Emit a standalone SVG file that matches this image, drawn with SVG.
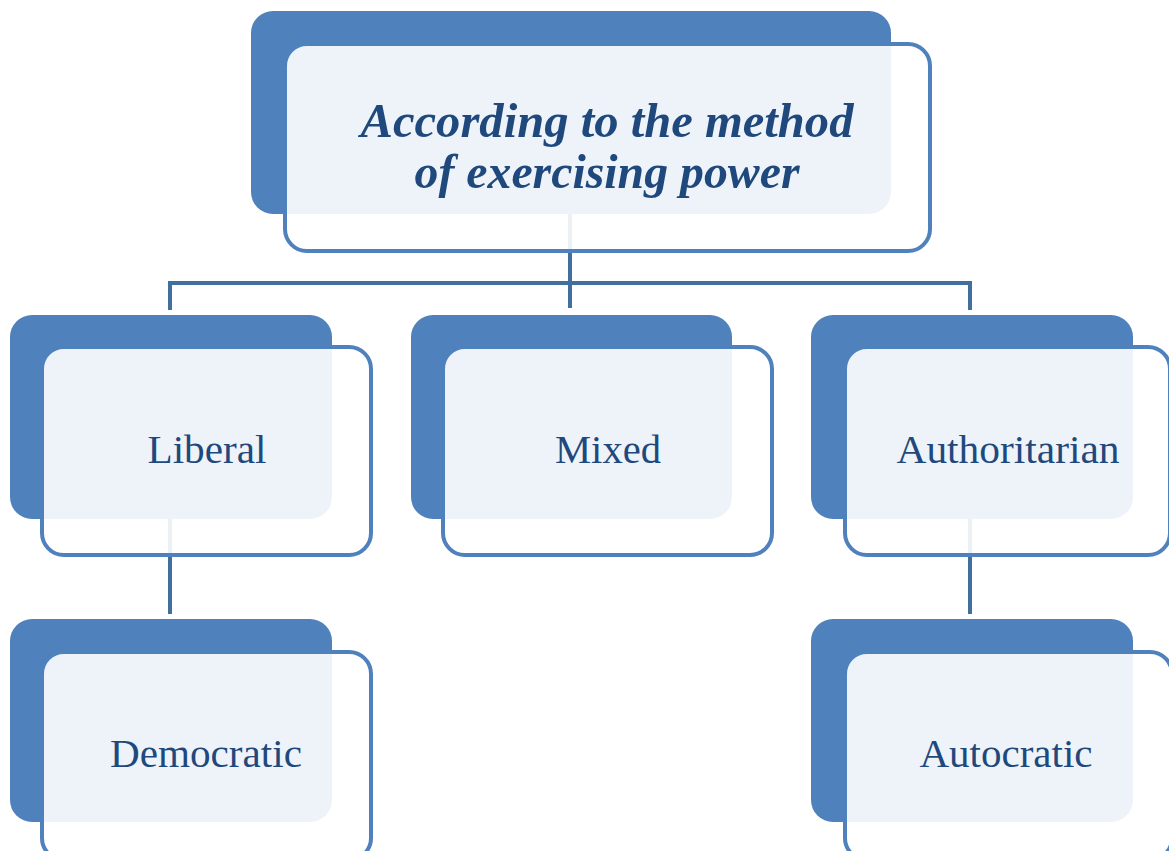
<svg xmlns="http://www.w3.org/2000/svg" width="1169" height="851" viewBox="0 0 1169 851">
<style>
.back{fill:#4F81BD;}
.front{fill:#FFFFFF;fill-opacity:0.9;stroke:#4F81BD;stroke-width:4;}
.conn{fill:none;stroke:#41709F;stroke-width:4;}
text{font-family:'Liberation Serif','DejaVu Serif',serif;fill:#1F497D;text-anchor:middle;}
.lbl{font-size:41px;}
.title{font-size:49px;font-weight:bold;font-style:italic;}
</style>
<rect width="1169" height="851" fill="#FFFFFF"/>
<g id="connectors">
<path class="conn" d="M570,214 V308"/>
<path class="conn" d="M170,310 V283 H970 V310"/>
<path class="conn" d="M170,518 V614"/>
<path class="conn" d="M970,518 V614"/>
</g>
<g id="node-root">
<rect class="back" x="251" y="11" width="640" height="203" rx="22"/>
<rect class="front" x="285" y="44" width="645" height="207" rx="22"/>
<text class="title" x="607" y="137" textLength="493" lengthAdjust="spacingAndGlyphs">According to the method</text>
<text class="title" x="607" y="188" textLength="385" lengthAdjust="spacingAndGlyphs">of exercising power</text>
</g>
<g id="node-liberal">
<rect class="back" x="10" y="315" width="322" height="204" rx="22"/>
<rect class="front" x="42" y="347" width="329" height="208" rx="22"/>
<text class="lbl" x="207" y="463" textLength="119" lengthAdjust="spacingAndGlyphs">Liberal</text>
</g>
<g id="node-mixed">
<rect class="back" x="411" y="315" width="321" height="204" rx="22"/>
<rect class="front" x="443" y="347" width="329" height="208" rx="22"/>
<text class="lbl" x="608" y="463" textLength="106" lengthAdjust="spacingAndGlyphs">Mixed</text>
</g>
<g id="node-authoritarian">
<rect class="back" x="811" y="315" width="322" height="204" rx="22"/>
<rect class="front" x="845" y="347" width="325" height="208" rx="22"/>
<text class="lbl" x="1008" y="463" textLength="223" lengthAdjust="spacingAndGlyphs">Authoritarian</text>
</g>
<g id="node-democratic">
<rect class="back" x="10" y="619" width="322" height="203" rx="22"/>
<rect class="front" x="42" y="652" width="329" height="208" rx="22"/>
<text class="lbl" x="206" y="767" textLength="192" lengthAdjust="spacingAndGlyphs">Democratic</text>
</g>
<g id="node-autocratic">
<rect class="back" x="811" y="619" width="322" height="203" rx="22"/>
<rect class="front" x="845" y="652" width="327" height="208" rx="22"/>
<text class="lbl" x="1006" y="767" textLength="173" lengthAdjust="spacingAndGlyphs">Autocratic</text>
</g>
</svg>
